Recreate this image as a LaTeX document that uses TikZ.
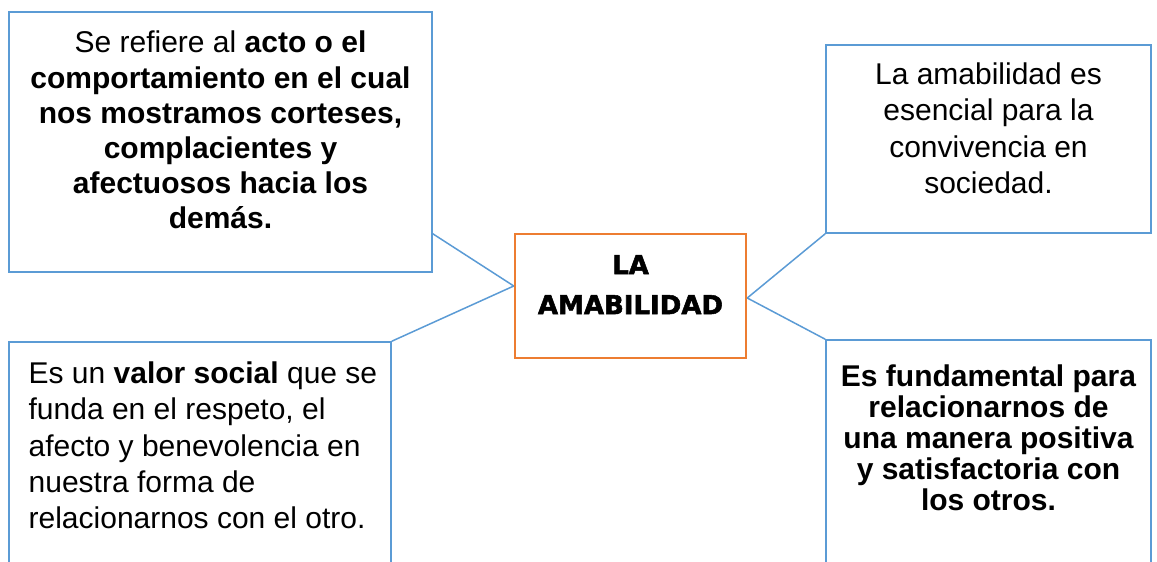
\documentclass[tikz,border=0pt]{standalone}
\usepackage{fontspec}
\setmainfont{Liberation Sans}
\newfontfamily\hubfont[BoldFeatures={FakeBold=2}]{DejaVu Sans}
\usetikzlibrary{positioning}
\definecolor{boxblue}{HTML}{5B9BD5}
\definecolor{huborange}{HTML}{ED7D31}

\begin{document}
\begin{tikzpicture}[
    % GLOBAL CFG
    x=0.5pt, y=0.5pt,
    font=\fontsize{15}{17.6}\selectfont,
    % Styles
    note/.style={% For the four outer boxes
        rectangle,
        draw=boxblue,
        line width=0.75pt,
        inner sep=0pt,
        },
    hub/.style={% For the central box
        rectangle,
        draw=huborange,
        line width=1.25pt,
        inner sep=0pt,
        },
    txt/.style={% For the texts inside the boxes
        inner sep=0pt,
        align=center,
        },
    link/.style={% Plain connectors
        draw=boxblue,
        line width=0.75pt,
        },
    ]

    \clip (0,0) rectangle (1157,562);

    % Draw the boxes
    \node [hub, minimum width=115.5pt, minimum height=62pt] (amab) at (630.5,266) {};
    \node [note, minimum width=211.5pt, minimum height=130pt] (acto) at (220.5,420) {};
    \node [note, minimum width=162.5pt, minimum height=94pt] (conv) at (988.5,423) {};
    \node [note, minimum width=191pt, minimum height=130pt] (valor) at (200,90) {};
    \node [note, minimum width=162.5pt, minimum height=131pt] (fund) at (988.5,91) {};

    % Texts, hung from the top of each box
    \node [txt, below=11pt of amab.north, font=\hubfont\bfseries\fontsize{13}{20}\selectfont] (amab_t) {LA\\AMABILIDAD};
    \node [txt, below=9.75pt of acto.north] (acto_t) {Se refiere al \textbf{acto o el}\\ \textbf{comportamiento en el cual}\\ \textbf{nos mostramos corteses,}\\ \textbf{complacientes y}\\ \textbf{afectuosos hacia los}\\ \textbf{demás.}};
    \node [txt, below=9pt of conv.north, font=\fontsize{15}{18.2}\selectfont] (conv_t) {La amabilidad es\\ esencial para la\\ convivencia en\\ sociedad.};
    \node [txt, align=left, below right=10pt and 10pt of valor.north west, font=\fontsize{15}{18.2}\selectfont] (valor_t) {Es un \textbf{valor social} que se\\ funda en el respeto, el\\ afecto y benevolencia en\\ nuestra forma de\\ relacionarnos con el otro.};
    \node [txt, below=12.5pt of fund.north, font=\bfseries\fontsize{15}{15.5}\selectfont] (fund_t) {Es fundamental para\\ relacionarnos de\\ una manera positiva\\ y satisfactoria con\\ los otros.};

    % Connectors
    \draw [link] ([yshift=19.5pt]acto.south east) -- ([yshift=5pt]amab.west);
    \draw [link] (valor.north east) -- ([yshift=5pt]amab.west);
    \draw [link] ([yshift=-1pt]amab.east) -- (conv.south west);
    \draw [link] ([yshift=-1pt]amab.east) -- (fund.north west);

\end{tikzpicture}
\end{document}
